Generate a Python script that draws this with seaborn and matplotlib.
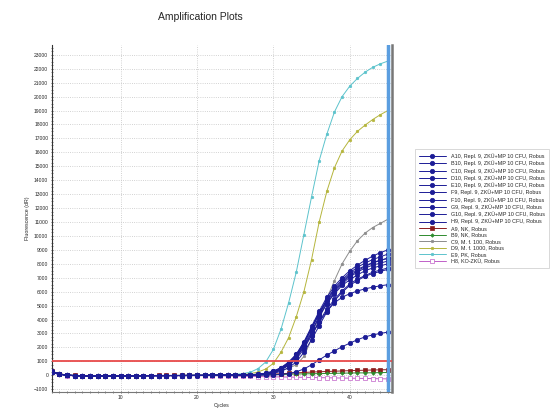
import numpy as np
import pandas as pd
import matplotlib
matplotlib.use("Agg")
import matplotlib.pyplot as plt
from matplotlib.ticker import MultipleLocator
import seaborn as sns

# Cycle numbers and fluorescence (dR) per well
cycles = list(range(1, 46))

a10 = [260, 90, 10, -30, -40, -40, -50, -50, -40, -40, -40, -30, -30, -30, -20, -20, -20, -20, -10, -10, -10, 0, 0, 0, 10,
       20, 40, 80, 150, 300, 550, 950, 1500, 2400, 3500, 4600, 5600, 6400, 7000, 7500, 7900, 8250, 8550, 8800, 9000]
b10 = [240, 80, 0, -30, -40, -50, -50, -50, -40, -40, -40, -40, -30, -30, -30, -20, -20, -20, -10, -10, -10, 0, 0, 0, 0,
       10, 30, 60, 120, 250, 480, 850, 1400, 2250, 3350, 4450, 5450, 6250, 6850, 7350, 7750, 8050, 8300, 8500, 8700]
c10 = [250, 90, 10, -20, -30, -40, -40, -40, -40, -30, -30, -30, -30, -20, -20, -20, -20, -10, -10, -10, 0, 0, 0, 10, 10,
       20, 40, 70, 130, 260, 500, 900, 1450, 2300, 3400, 4500, 5400, 6150, 6750, 7250, 7600, 7850, 8100, 8250, 8400]
d10 = [230, 70, 0, -30, -40, -50, -50, -50, -50, -40, -40, -40, -30, -30, -30, -30, -20, -20, -20, -10, -10, -10, 0, 0, 0,
       10, 20, 50, 100, 200, 400, 750, 1250, 2050, 3050, 4150, 5150, 5950, 6550, 7050, 7400, 7700, 7900, 8050, 8200]
e10 = [250, 80, 10, -20, -40, -40, -40, -40, -40, -40, -30, -30, -30, -30, -20, -20, -20, -20, -10, -10, 0, 0, 0, 0, 10,
       10, 20, 50, 100, 220, 450, 820, 1350, 2150, 3150, 4250, 5150, 5850, 6450, 6850, 7200, 7500, 7700, 7850, 8000]
f9 = [270, 90, 10, -20, -30, -40, -40, -40, -40, -40, -30, -30, -30, -20, -20, -20, -20, -10, -10, -10, -10, 0, 0, 0, 0,
      0, 20, 40, 90, 180, 380, 700, 1150, 1900, 2850, 3850, 4750, 5450, 6050, 6550, 6900, 7150, 7400, 7550, 7700]
f10 = [240, 80, 0, -30, -40, -40, -50, -50, -40, -40, -40, -30, -30, -30, -30, -20, -20, -20, -20, -10, -10, -10, 0, 0, 0,
       0, 10, 30, 60, 130, 280, 550, 950, 1650, 2550, 3550, 4550, 5350, 5950, 6450, 6800, 7100, 7300, 7450, 7600]
g9 = [250, 80, 10, -20, -30, -40, -40, -40, -40, -30, -30, -30, -30, -20, -20, -20, -20, -20, -10, -10, -10, 0, 0, 0, 0,
      10, 20, 50, 100, 200, 400, 750, 1300, 2050, 2900, 3800, 4600, 5200, 5600, 5850, 6050, 6200, 6320, 6420, 6500]
g10 = [230, 70, 0, -30, -40, -50, -50, -50, -40, -40, -40, -40, -30, -30, -30, -30, -20, -20, -20, -20, -10, -10, -10, 0, 0,
       0, 0, 10, 10, 20, 60, 120, 250, 450, 750, 1100, 1450, 1750, 2050, 2300, 2550, 2750, 2900, 3000, 3100]
h9 = [260, 80, 10, -20, -30, -40, -40, -40, -40, -40, -30, -30, -30, -30, -20, -20, -20, -20, -10, -10, -10, 0, 0, 0, 10,
      20, 40, 70, 140, 280, 520, 900, 1500, 2350, 3350, 4400, 5300, 6050, 6650, 7150, 7500, 7800, 8050, 8250, 8400]
a9 = [270, 100, 20, -10, -20, -30, -30, -30, -30, -30, -20, -20, -20, -20, -10, -10, -10, -10, 0, 0, 0, 10, 10, 10, 20,
      20, 30, 40, 60, 80, 110, 140, 170, 200, 230, 250, 270, 290, 310, 330, 350, 360, 380, 390, 400]
b9 = [250, 80, 10, -20, -30, -40, -40, -40, -40, -30, -30, -30, -30, -20, -20, -20, -20, -10, -10, -10, -10, 0, 0, 0, 0,
      10, 10, 20, 30, 40, 60, 70, 90, 100, 110, 120, 130, 140, 150, 160, 170, 170, 180, 190, 200]
c9 = [240, 80, 0, -30, -40, -40, -40, -40, -40, -40, -30, -30, -30, -30, -20, -20, -20, -20, -10, -10, -10, 0, 0, 0, 10,
      20, 40, 70, 120, 200, 330, 500, 750, 1350, 2600, 4100, 5500, 6800, 8000, 8900, 9650, 10200, 10600, 10900, 11200]
d9 = [250, 90, 10, -20, -30, -40, -40, -40, -40, -30, -30, -30, -30, -20, -20, -20, -20, -10, -10, -10, 0, 0, 0, 10, 30,
      60, 120, 230, 450, 850, 1650, 2700, 4200, 6000, 8300, 11000, 13200, 14900, 16100, 16900, 17500, 17950, 18350, 18700, 19000]
e9 = [260, 90, 10, -20, -30, -40, -40, -40, -30, -30, -30, -30, -20, -20, -20, -20, -10, -10, -10, 0, 0, 10, 20, 40, 70,
      120, 220, 480, 950, 1850, 3300, 5200, 7400, 10100, 12800, 15400, 17300, 18900, 20000, 20750, 21300, 21750, 22100, 22350, 22550]
h8 = [220, 60, -20, -40, -50, -60, -60, -60, -60, -50, -50, -50, -40, -40, -40, -40, -30, -30, -30, -30, -30, -40, -40, -50, -60,
      -70, -80, -90, -100, -110, -120, -130, -140, -150, -160, -170, -180, -190, -200, -210, -220, -230, -240, -250, -260]

wells = [
    ("A10, Repl. 9, ZKÜ+MP 10 CFU, Robus", a10),
    ("B10, Repl. 9, ZKÜ+MP 10 CFU, Robus", b10),
    ("C10, Repl. 9, ZKÜ+MP 10 CFU, Robus", c10),
    ("D10, Repl. 9, ZKÜ+MP 10 CFU, Robus", d10),
    ("E10, Repl. 9, ZKÜ+MP 10 CFU, Robus", e10),
    ("F9, Repl. 9, ZKÜ+MP 10 CFU, Robus", f9),
    ("F10, Repl. 9, ZKÜ+MP 10 CFU, Robus", f10),
    ("G9, Repl. 9, ZKÜ+MP 10 CFU, Robus", g9),
    ("G10, Repl. 9, ZKÜ+MP 10 CFU, Robus", g10),
    ("H9, Repl. 9, ZKÜ+MP 10 CFU, Robus", h9),
    ("A9, NK, Robus", a9),
    ("B9, NK, Robus", b9),
    ("C9, M. f. 100, Robus", c9),
    ("D9, M. f. 1000, Robus", d9),
    ("E9, PK, Robus", e9),
    ("H8, KO-ZKÜ, Robus", h8),
]
threshold = 1000

# style per well: colour, marker, marker size, filled, zorder
navy = ("#1c1c96", "o", 3.2, True, 4)
styles = [navy] * 10 + [
    ("#8b1c1c", "s", 2.6, True, 3),
    ("#2e8b2e", "D", 1.8, True, 3),
    ("#8c8c8c", "o", 1.8, True, 3),
    ("#b5b53c", "o", 1.8, True, 3),
    ("#5cc3cc", "o", 1.8, True, 3),
    ("#c060c8", "s", 2.4, False, 2),
]

sns.set_style("white")
plt.rcParams["font.family"] = ["Liberation Sans", "DejaVu Sans"]

fig = plt.figure(figsize=(5.51, 4.17), dpi=100)
ax = fig.add_axes([0.094, 0.06, 0.617, 0.832])

for (label, vals), (col, mk, ms, filled, z) in zip(wells, styles):
    sns.lineplot(x=cycles, y=vals, ax=ax, color=col, linewidth=0.7, marker=mk,
                 markersize=ms, markeredgewidth=0.5, markeredgecolor=col,
                 markerfacecolor=col if filled else "white", label=label, zorder=z)

ax.axhline(threshold, color="#e84a4a", linewidth=1.3, zorder=5)
ax.axvline(45, color="#5b9ee0", linewidth=2.5, zorder=6)

ax.set_xlim(1, 45.5)
ax.set_ylim(-1200, 23700)
ax.xaxis.set_major_locator(MultipleLocator(10))
ax.xaxis.set_minor_locator(MultipleLocator(1))
ax.yaxis.set_major_locator(MultipleLocator(1000))
ax.yaxis.set_minor_locator(MultipleLocator(250))
ax.grid(True, which="major", linestyle=":", color="#c4c4c4", linewidth=0.6)
ax.tick_params(axis="both", which="major", labelsize=3.6, length=2, width=0.5, direction="inout", pad=1.5)
ax.tick_params(axis="both", which="minor", length=1.2, width=0.4, direction="inout")
ax.tick_params(bottom=True, left=True, which="both")
ax.spines["top"].set_visible(False)
ax.spines["left"].set_color("#333333")
ax.spines["bottom"].set_color("#777777")
ax.spines["right"].set_color("#777777")
ax.spines["right"].set_linewidth(1.8)
ax.spines["left"].set_linewidth(0.8)

ax.set_xlabel("Cycles", fontsize=3.8, labelpad=2)
ax.set_ylabel("Fluorescence (dR)", fontsize=3.8, labelpad=3)

fig.text(0.363, 0.959, "Amplification Plots", fontsize=7.5, ha="center", va="center")

handles, labels = ax.get_legend_handles_labels()
ax.get_legend().remove()
leg = fig.legend(handles, labels, loc="upper left", bbox_to_anchor=(0.748, 0.648),
                 fontsize=3.9, frameon=True, handlelength=5.0, labelspacing=0.28,
                 borderpad=0.7, handletextpad=1.0, fancybox=False)
leg.get_frame().set_edgecolor("#bbbbbb")
leg.get_frame().set_linewidth(0.5)

fig.savefig("out.png", dpi=100)
